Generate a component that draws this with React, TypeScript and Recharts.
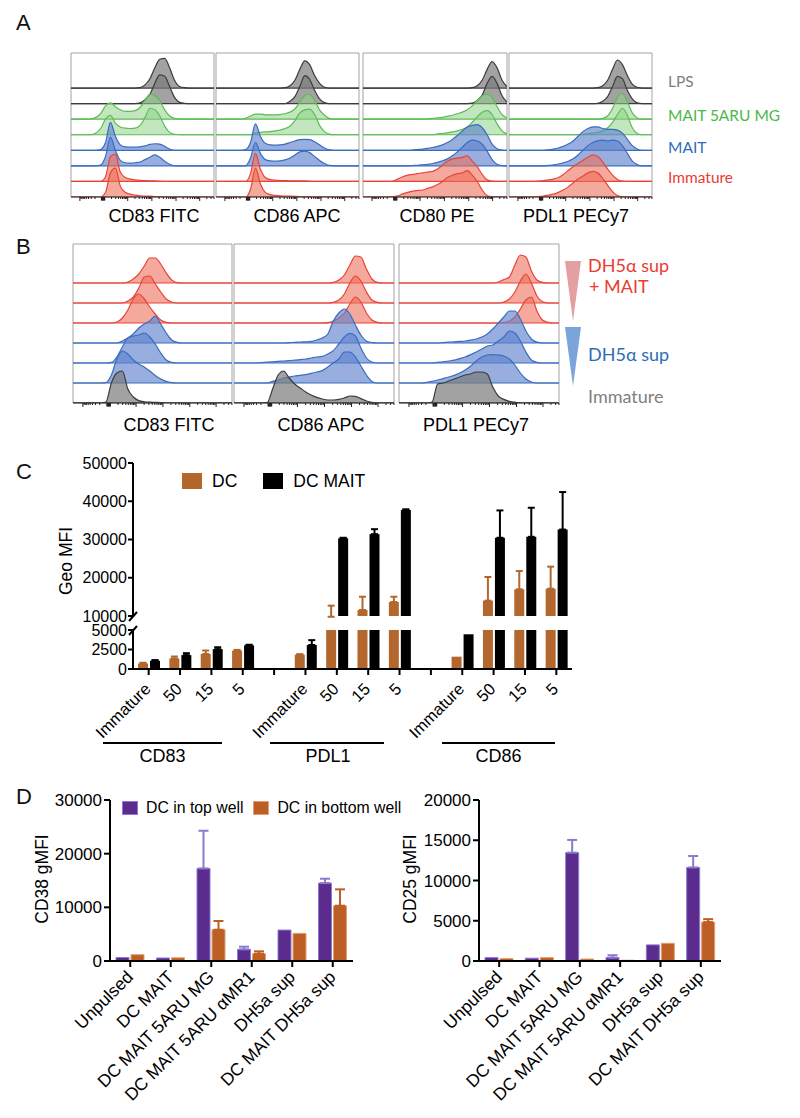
import React from 'react';
import { ComposedChart, BarChart, Bar, Area, XAxis, YAxis, ErrorBar, ReferenceArea, Legend } from 'recharts';

const FONT = '"Liberation Sans", Arial, Helvetica, sans-serif';
const LEGFONT = 'Lato, "Open Sans", sans-serif';

// ---------- Histogram data (30 bins per curve, values in row-heights) ----------
const NB = 30;
function pad(start: number, vals: number[]): number[] {
  const a: number[] = new Array(NB).fill(0);
  vals.forEach((v, k) => { a[start + k] = v; });
  return a;
}

// Panel A rows (top to bottom): LPS, LPS, MAIT 5ARU MG x2, MAIT x2, Immature x2
const histA_CD83 = [
  pad(14, [0.02, 0.2, 0.6, 1.3, 1.85, 1.9, 1.3, 0.5, 0.1, 0.02]),
  pad(14, [0.05, 0.25, 0.6, 1.3, 1.85, 1.75, 1.1, 0.4, 0.08, 0.02]),
  pad(4, [0.02, 0.1, 0.35, 0.85, 1.05, 0.8, 0.6, 0.5, 0.5, 0.55, 0.75, 1.2, 1.6, 1.5, 1.2, 0.6, 0.2, 0.05]),
  pad(5, [0.1, 0.4, 1.0, 1.25, 0.75, 0.5, 0.42, 0.4, 0.42, 0.6, 1.1, 1.7, 1.6, 1.2, 0.55, 0.15, 0.03]),
  pad(6, [0.05, 0.5, 1.8, 0.9, 0.35, 0.22, 0.2, 0.2, 0.22, 0.28, 0.38, 0.42, 0.4, 0.25, 0.08]),
  pad(6, [0.05, 0.6, 1.85, 1.0, 0.35, 0.2, 0.18, 0.2, 0.25, 0.4, 0.55, 0.7, 0.55, 0.3, 0.1]),
  pad(7, [0.3, 1.6, 1.75, 0.6, 0.25, 0.15, 0.1, 0.07, 0.05, 0.04, 0.03, 0.02]),
  pad(7, [0.3, 1.55, 1.85, 0.7, 0.3, 0.18, 0.12, 0.08, 0.06, 0.05, 0.03, 0.02]),
];
const histA_CD86 = [
  pad(14, [0.02, 0.15, 0.5, 1.2, 1.75, 1.5, 0.8, 0.3, 0.05]),
  pad(15, [0.15, 0.45, 1.1, 1.8, 1.55, 0.85, 0.3, 0.06]),
  pad(6, [0.05, 0.2, 0.32, 0.33, 0.28, 0.27, 0.27, 0.3, 0.35, 0.45, 0.65, 1.1, 1.5, 1.6, 1.2, 0.6, 0.25, 0.05]),
  pad(8, [0.1, 0.15, 0.18, 0.2, 0.25, 0.3, 0.4, 0.55, 0.9, 1.4, 1.6, 1.65, 1.3, 0.6, 0.2, 0.04]),
  pad(6, [0.05, 0.5, 1.7, 0.9, 0.45, 0.35, 0.33, 0.35, 0.4, 0.5, 0.6, 0.68, 0.7, 0.68, 0.55, 0.35, 0.15, 0.03]),
  pad(7, [0.5, 1.5, 0.8, 0.4, 0.32, 0.3, 0.32, 0.38, 0.5, 0.7, 0.9, 0.95, 0.85, 0.6, 0.35, 0.15, 0.03]),
  pad(7, [0.5, 1.8, 0.8, 0.25, 0.12, 0.08, 0.06, 0.05, 0.04, 0.04, 0.03, 0.03, 0.02]),
  pad(7, [0.5, 1.85, 0.85, 0.3, 0.15, 0.1, 0.07, 0.06, 0.05, 0.04, 0.03, 0.03, 0.02]),
];
const histA_CD80 = [
  pad(22, [0.02, 0.15, 0.5, 1.2, 1.7, 1.3, 0.5, 0.1]),
  pad(22, [0.03, 0.2, 0.55, 1.3, 1.75, 1.3, 0.5, 0.1]),
  pad(13, [0.02, 0.05, 0.08, 0.12, 0.18, 0.25, 0.35, 0.45, 0.6, 0.85, 1.2, 1.5, 1.6, 1.4, 0.8, 0.3, 0.08]),
  pad(15, [0.05, 0.08, 0.12, 0.18, 0.25, 0.35, 0.5, 0.8, 1.15, 1.45, 1.55, 1.3, 0.7, 0.25, 0.05]),
  pad(10, [0.02, 0.05, 0.08, 0.12, 0.18, 0.25, 0.35, 0.5, 0.7, 0.95, 1.25, 1.5, 1.6, 1.65, 1.45, 1.0, 0.4, 0.1, 0.02]),
  pad(10, [0.02, 0.04, 0.07, 0.1, 0.15, 0.22, 0.32, 0.45, 0.65, 0.9, 1.2, 1.5, 1.65, 1.6, 1.4, 0.95, 0.4, 0.1, 0.02]),
  pad(6, [0.02, 0.15, 0.3, 0.4, 0.45, 0.5, 0.55, 0.6, 0.65, 0.8, 1.05, 1.3, 1.45, 1.5, 1.55, 1.65, 1.3, 0.95, 0.45, 0.1, 0.02]),
  pad(6, [0.02, 0.08, 0.2, 0.3, 0.38, 0.42, 0.45, 0.55, 0.65, 0.8, 1.0, 1.25, 1.4, 1.5, 1.55, 1.7, 1.4, 1.0, 0.45, 0.1, 0.02]),
];
const histA_PDL1 = [
  pad(18, [0.02, 0.15, 0.5, 1.2, 1.8, 1.5, 0.8, 0.25, 0.05]),
  pad(18, [0.02, 0.15, 0.45, 1.1, 1.75, 1.6, 0.85, 0.3, 0.05]),
  pad(19, [0.05, 0.2, 0.7, 1.4, 1.65, 1.1, 0.4, 0.08]),
  pad(15, [0.03, 0.06, 0.1, 0.15, 0.25, 0.45, 0.8, 1.3, 1.7, 1.25, 0.45, 0.08]),
  pad(8, [0.03, 0.08, 0.15, 0.25, 0.4, 0.6, 0.9, 1.2, 1.4, 1.5, 1.5, 1.4, 1.35, 1.35, 1.3, 1.1, 0.7, 0.3, 0.08]),
  pad(8, [0.03, 0.06, 0.12, 0.2, 0.3, 0.45, 0.7, 1.0, 1.3, 1.5, 1.6, 1.65, 1.6, 1.65, 1.6, 1.3, 0.8, 0.3, 0.08]),
  pad(6, [0.02, 0.05, 0.1, 0.15, 0.25, 0.45, 0.7, 0.95, 1.15, 1.35, 1.55, 1.7, 1.6, 1.25, 0.8, 0.4, 0.12, 0.02]),
  pad(6, [0.03, 0.06, 0.12, 0.18, 0.3, 0.45, 0.65, 0.9, 1.15, 1.35, 1.55, 1.65, 1.55, 1.2, 0.75, 0.35, 0.1, 0.02]),
];

// Panel B rows (top to bottom): DH5a sup + MAIT x3, DH5a sup x3, Immature
const histB_CD83 = [
  pad(10, [0.05, 0.2, 0.45, 0.85, 1.25, 1.25, 0.95, 0.5, 0.15, 0.02]),
  pad(10, [0.1, 0.3, 0.75, 1.3, 1.35, 0.95, 0.55, 0.2, 0.05]),
  pad(8, [0.05, 0.25, 0.65, 1.2, 1.45, 1.2, 0.8, 0.45, 0.15, 0.03]),
  pad(9, [0.1, 0.25, 0.45, 0.75, 0.95, 1.1, 1.35, 0.95, 0.5, 0.15, 0.03]),
  pad(7, [0.03, 0.3, 0.8, 1.25, 1.35, 1.4, 1.5, 1.3, 0.95, 0.5, 0.15, 0.03]),
  pad(6, [0.02, 0.4, 1.2, 1.6, 1.45, 1.15, 0.95, 0.8, 0.6, 0.38, 0.2, 0.08, 0.02]),
  pad(6, [0.05, 1.0, 1.5, 1.6, 0.7, 0.3, 0.12, 0.06, 0.04, 0.03, 0.02]),
];
const histB_CD86 = [
  pad(18, [0.03, 0.15, 0.4, 0.9, 1.35, 1.3, 0.7, 0.2, 0.03]),
  pad(18, [0.03, 0.15, 0.45, 1.0, 1.35, 1.1, 0.55, 0.15, 0.03]),
  pad(17, [0.02, 0.1, 0.25, 0.5, 0.95, 1.3, 1.05, 0.5, 0.15, 0.03]),
  pad(10, [0.02, 0.03, 0.05, 0.06, 0.08, 0.15, 0.25, 0.45, 1.1, 1.5, 1.7, 1.45, 0.9, 0.4, 0.1, 0.02]),
  pad(5, [0.02, 0.04, 0.06, 0.08, 0.1, 0.12, 0.14, 0.17, 0.2, 0.25, 0.3, 0.33, 0.45, 0.62, 0.95, 1.3, 1.48, 1.35, 0.75, 0.25, 0.05]),
  pad(7, [0.08, 0.15, 0.25, 0.3, 0.35, 0.38, 0.42, 0.48, 0.55, 0.62, 0.8, 1.0, 1.2, 1.55, 1.55, 1.3, 0.85, 0.4, 0.08]),
  pad(6, [0.02, 0.7, 1.4, 1.6, 1.25, 0.95, 0.75, 0.55, 0.4, 0.28, 0.2, 0.15, 0.15, 0.18, 0.25, 0.35, 0.33, 0.22, 0.1, 0.03]),
];
const histB_PDL1 = [
  pad(18, [0.05, 0.17, 0.3, 0.9, 1.4, 1.3, 0.6, 0.15, 0.03]),
  pad(19, [0.05, 0.2, 0.55, 1.1, 1.45, 1.0, 0.35, 0.06]),
  pad(19, [0.03, 0.1, 0.3, 0.7, 1.15, 1.3, 0.6, 0.15, 0.03]),
  pad(8, [0.02, 0.04, 0.06, 0.08, 0.1, 0.14, 0.2, 0.3, 0.45, 0.7, 1.0, 1.3, 1.6, 1.6, 1.2, 0.6, 0.2, 0.04]),
  pad(7, [0.03, 0.06, 0.1, 0.14, 0.22, 0.3, 0.42, 0.55, 0.7, 0.85, 0.9, 1.1, 1.3, 1.6, 1.5, 1.1, 0.55, 0.15, 0.03]),
  pad(5, [0.03, 0.08, 0.15, 0.22, 0.3, 0.38, 0.5, 0.65, 0.85, 1.1, 1.3, 1.4, 1.42, 1.4, 1.35, 1.2, 0.9, 0.5, 0.2, 0.05]),
  pad(6, [0.05, 0.95, 1.0, 1.1, 1.2, 1.3, 1.4, 1.45, 1.55, 1.55, 1.45, 0.8, 0.35, 0.18, 0.08, 0.04]),
];

const A_ROWS = ['g', 'g', 'gr', 'gr', 'b', 'b', 'r', 'r'];
const B_ROWS = ['r', 'r', 'r', 'b', 'b', 'b', 'g'];

const PAL: Record<string, { stroke: string; fill: string; op: number }> = {
  g: { stroke: '#3c3c3c', fill: '#7a7a7a', op: 0.7 },
  gr: { stroke: '#5dbb55', fill: '#8fd488', op: 0.55 },
  b: { stroke: '#3a6cc0', fill: '#5f82cc', op: 0.65 },
  r: { stroke: '#e8443a', fill: '#ee6e5a', op: 0.6 },
};

// log-like (biexponential) axis ticks for the histograms
const HIST_MAJOR = [1.8, 11.5, 16.4, 21.3, 26.1];
const HIST_ZERO = [6.2, 6.35, 6.5, 6.65, 6.8];
const DEC = [2, 3, 4, 5, 6, 7, 8, 9];
const HIST_MINOR: number[] = [
  ...DEC.map((k) => 6.2 - Math.log10(k) * 4.4),
  ...DEC.map((k) => 6.8 + Math.log10(k) * 4.7),
  ...DEC.map((k) => 11.5 + Math.log10(k) * 4.9),
  ...DEC.map((k) => 16.4 + Math.log10(k) * 4.9),
  ...DEC.map((k) => 21.3 + Math.log10(k) * 4.8),
  ...[2, 3, 4].map((k) => 26.1 + Math.log10(k) * 4.8),
];
const HIST_TICKS = [...HIST_MAJOR, ...HIST_ZERO, ...HIST_MINOR].sort((a, b) => a - b);

const HistTick = (p: any) => {
  const v = p.payload?.value;
  const major = HIST_MAJOR.includes(v);
  const zero = HIST_ZERO.includes(v);
  const len = major ? 4 : zero ? 3.5 : 2;
  return <line x1={p.x} x2={p.x} y1={p.y} y2={p.y + len} stroke="#222" strokeWidth={zero ? 1.4 : 1} />;
};

type HistProps = { left: number; top: number; width: number; height: number; ymax: number; curves: number[][]; rows: string[] };
function Hist({ left, top, width, height, ymax, curves, rows }: HistProps) {
  const n = curves.length;
  const data = Array.from({ length: NB }, (_, i) => {
    const o: any = { x: i };
    curves.forEach((c, k) => { o['c' + k] = c[i]; });
    return o;
  });
  return (
    <div style={{ position: 'absolute', left: left - 1, top: top - 1 }}>
      <ComposedChart width={width + 2} height={height + 8} data={data} margin={{ top: 1, right: 1, bottom: 0, left: 1 }}>
        <XAxis dataKey="x" type="number" domain={[0, NB - 1]} ticks={HIST_TICKS} interval={0} tickSize={0} tickMargin={0}
          tickLine={false} tick={HistTick} height={7} axisLine={{ stroke: '#333', strokeWidth: 1 }} allowDataOverflow />
        <YAxis hide type="number" domain={[0, ymax]} allowDataOverflow />
        <ReferenceArea x1={0} x2={NB - 1} y1={0} y2={ymax} fill="none" stroke="#a3a3a3" strokeWidth={1} ifOverflow="visible" />
        {curves.map((c, k) => {
          const base = n - 1 - k;
          const col = PAL[rows[k]];
          return (
            <Area key={k} type="monotone" dataKey={(d: any) => [base, base + d['c' + k]]} stroke={col.stroke} strokeWidth={1.2}
              fill={col.fill} fillOpacity={col.op} isAnimationActive={false} dot={false} activeDot={false} />
          );
        })}
      </ComposedChart>
    </div>
  );
}

// ---------- Panel C data ----------
const C_CATS = ['Immature', '50', '15', '5', '', 'Immature', '50', '15', '5', '', 'Immature', '50', '15', '5'];
const C_DC = [700, 1350, 1920, 2350, 0, 1840, 9800, 11570, 13650, 0, 1580, 14000, 16970, 17130];
const C_DC_ERR = [100, 250, 450, 100, 0, 60, 2900, 3470, 1390, 0, 0, 6200, 4780, 5770];
const C_MAIT = [1060, 1780, 2540, 3030, 0, 3080, 30300, 31400, 37700, 0, 4450, 30450, 30700, 32600];
const C_MAIT_ERR = [80, 250, 250, 80, 0, 620, 150, 1300, 200, 0, 0, 7150, 7600, 9800];
const C_TOP_TICKS = [10000, 20000, 30000, 40000, 50000];
const C_BOT_TICKS = [0, 2500, 5000];

const cData = C_CATS.map((cat, i) => ({ cat, dc: C_DC[i], dcErr: C_DC_ERR[i], mait: C_MAIT[i], maitErr: C_MAIT_ERR[i] }));

// ---------- Panel D data ----------
const D_CATS = ['Unpulsed', 'DC MAIT', 'DC MAIT 5ARU MG', 'DC MAIT 5ARU \u03b1MR1', 'DH5a sup', 'DC MAIT DH5a sup'];
const D_CD38_TOP = [650, 560, 17250, 2170, 5770, 14520];
const D_CD38_TOP_ERR = [0, 0, 7020, 500, 0, 810];
const D_CD38_BOT = [1180, 600, 5830, 1360, 5150, 10300];
const D_CD38_BOT_ERR = [0, 0, 1620, 440, 0, 3050];
const D_CD25_TOP = [420, 350, 13460, 420, 2000, 11620];
const D_CD25_TOP_ERR = [0, 0, 1580, 300, 0, 1420];
const D_CD25_BOT = [300, 420, 250, 100, 2200, 4830];
const D_CD25_BOT_ERR = [0, 0, 0, 0, 0, 370];
const D_SERIES = ['DC in top well', 'DC in bottom well'];

const ORANGE_C = '#b3672c';
const PURPLE = '#5b2c8d';
const PURPLE_LT = '#8a7bcf';
const ORANGE_D = '#bd5e24';
const ORANGE_D_LT = '#e0a070';

const errKey = (k: string) => (d: any) => (d[k] > 0 ? [0, d[k]] : null);

const makeRotTick = (fs: number, dx: number, dy: number) => (p: any) => {
  const x = p.x + dx;
  const y = p.y + dy;
  return (
    <text x={x} y={y} transform={`rotate(-45 ${x} ${y})`} textAnchor="end" fontSize={fs} fill="#000" fontFamily={FONT}>
      {p.payload.value}
    </text>
  );
};
const CTick = makeRotTick(16.5, 3, 13);
const DTick = makeRotTick(17.5, 4, 9);

const CLegend = (props: any) => (
  <div style={{ display: 'flex', alignItems: 'center', fontFamily: FONT, fontSize: 17.5, color: '#000', lineHeight: '20px' }}>
    {(props.payload || []).map((p: any, i: number) => (
      <div key={i} style={{ display: 'flex', alignItems: 'center', marginRight: 26 }}>
        <span style={{ display: 'inline-block', width: 20, height: 16, background: p.color, marginRight: 10 }} />
        <span>{p.value}</span>
      </div>
    ))}
  </div>
);

const DLegend = (props: any) => {
  const items = [...(props.payload || [])].sort((a: any, b: any) => D_SERIES.indexOf(a.value) - D_SERIES.indexOf(b.value));
  return (
    <div style={{ display: 'flex', alignItems: 'center', fontFamily: FONT, fontSize: 15.8, color: '#000', lineHeight: '20px' }}>
      {items.map((p: any, i: number) => (
        <div key={i} style={{ display: 'flex', alignItems: 'center', marginRight: 10 }}>
          <span style={{ display: 'inline-block', width: 14, height: 12, background: p.color, border: `1px solid ${p.payload?.stroke || p.color}`, marginRight: 8 }} />
          <span>{p.value}</span>
        </div>
      ))}
    </div>
  );
};

const axisBlack = { stroke: '#000', strokeWidth: 2 };

function DChart({ left, width, ywidth, domain, ticks, top, topErr, bot, botErr, legend }: any) {
  const data = D_CATS.map((cat, i) => ({ cat, top: top[i], topErr: topErr[i], bot: bot[i], botErr: botErr[i] }));
  return (
    <div style={{ position: 'absolute', left, top: 790 }}>
      <BarChart width={width} height={318} data={data} margin={{ top: 10, right: 20, bottom: 0, left: 0 }} barSize={13} barGap={2}>
        <XAxis dataKey="cat" height={147} interval={0} axisLine={axisBlack} tickLine={axisBlack} tickSize={6} tickMargin={2} tick={DTick} />
        <YAxis width={ywidth} domain={domain} ticks={ticks} interval={0} allowDataOverflow axisLine={axisBlack} tickLine={axisBlack}
          tickSize={6} tickMargin={2} tick={{ fill: '#000', fontSize: 17, fontFamily: FONT }} />
        <Bar dataKey="top" name={D_SERIES[0]} fill={PURPLE} stroke={PURPLE_LT} strokeWidth={1} isAnimationActive={false}>
          <ErrorBar dataKey={errKey('topErr')} width={5} stroke={PURPLE_LT} strokeWidth={2} direction="y" />
        </Bar>
        <Bar dataKey="bot" name={D_SERIES[1]} fill={ORANGE_D} stroke={ORANGE_D_LT} strokeWidth={1} isAnimationActive={false}>
          <ErrorBar dataKey={errKey('botErr')} width={5} stroke={ORANGE_D} strokeWidth={2} direction="y" />
        </Bar>
        {legend ? (
          <Legend verticalAlign="middle" layout="horizontal" content={DLegend}
            wrapperStyle={{ top: 8, left: 122, width: 400, height: 20 }} />
        ) : null}
      </BarChart>
    </div>
  );
}

export default function App() {
  return (
    <div style={{ position: 'absolute', left: 0, top: 0, width: 800, height: 1118, background: '#fff', fontFamily: FONT, overflow: 'hidden' }}>
      {/* Panel A */}
      <Hist left={71} top={53} width={143} height={144} ymax={9.25} curves={histA_CD83} rows={A_ROWS} />
      <Hist left={216} top={53} width={143} height={144} ymax={9.25} curves={histA_CD86} rows={A_ROWS} />
      <Hist left={363} top={53} width={144} height={144} ymax={9.25} curves={histA_CD80} rows={A_ROWS} />
      <Hist left={509} top={53} width={143} height={144} ymax={9.25} curves={histA_PDL1} rows={A_ROWS} />

      {/* Panel B */}
      <Hist left={73} top={244} width={159} height={159} ymax={7.95} curves={histB_CD83} rows={B_ROWS} />
      <Hist left={234} top={244} width={160} height={159} ymax={7.95} curves={histB_CD86} rows={B_ROWS} />
      <Hist left={399} top={244} width={160} height={159} ymax={7.95} curves={histB_PDL1} rows={B_ROWS} />

      {/* Panel C: upper segment (10000-50000) */}
      <div style={{ position: 'absolute', left: 0, top: 450 }}>
        <BarChart width={600} height={180} data={cData} margin={{ top: 13, right: 28, bottom: 14, left: 0 }} barSize={10} barGap={2}>
          <XAxis dataKey="cat" hide />
          <YAxis width={133} domain={[10000, 50000]} ticks={C_TOP_TICKS} interval={0} allowDataOverflow axisLine={axisBlack} tickLine={axisBlack}
            tickSize={5} tickMargin={1} tick={{ fill: '#000', fontSize: 16, fontFamily: FONT }} />
          <Bar dataKey="dc" name="DC" fill={ORANGE_C} isAnimationActive={false}>
            <ErrorBar dataKey={errKey('dcErr')} width={3.5} stroke={ORANGE_C} strokeWidth={2} direction="y" />
          </Bar>
          <Bar dataKey="mait" name="DC MAIT" fill="#000" isAnimationActive={false}>
            <ErrorBar dataKey={errKey('maitErr')} width={3.5} stroke="#000" strokeWidth={2} direction="y" />
          </Bar>
          <Legend verticalAlign="middle" layout="horizontal" content={CLegend} wrapperStyle={{ top: 21, left: 182, width: 400, height: 20 }} />
        </BarChart>
      </div>
      {/* Panel C: lower segment (0-5000) */}
      <div style={{ position: 'absolute', left: 0, top: 618 }}>
        <BarChart width={600} height={131} data={cData} margin={{ top: 12, right: 28, bottom: 0, left: 0 }} barSize={10} barGap={2}>
          <XAxis dataKey="cat" height={80} interval={0} axisLine={axisBlack} tickLine={axisBlack} tickSize={6} tickMargin={2} tick={CTick} />
          <YAxis width={133} domain={[0, 5000]} ticks={C_BOT_TICKS} interval={0} allowDataOverflow axisLine={axisBlack} tickLine={axisBlack}
            tickSize={5} tickMargin={1} tick={{ fill: '#000', fontSize: 16, fontFamily: FONT }} />
          <Bar dataKey="dc" name="DC" fill={ORANGE_C} isAnimationActive={false}>
            <ErrorBar dataKey={errKey('dcErr')} width={3.5} stroke={ORANGE_C} strokeWidth={2} direction="y" />
          </Bar>
          <Bar dataKey="mait" name="DC MAIT" fill="#000" isAnimationActive={false}>
            <ErrorBar dataKey={errKey('maitErr')} width={3.5} stroke="#000" strokeWidth={2} direction="y" />
          </Bar>
        </BarChart>
      </div>

      {/* Panel D */}
      <DChart left={0} width={373} ywidth={110} domain={[0, 30000]} ticks={[0, 10000, 20000, 30000]}
        top={D_CD38_TOP} topErr={D_CD38_TOP_ERR} bot={D_CD38_BOT} botErr={D_CD38_BOT_ERR} legend />
      <DChart left={370} width={371} ywidth={109} domain={[0, 20000]} ticks={[0, 5000, 10000, 15000, 20000]}
        top={D_CD25_TOP} topErr={D_CD25_TOP_ERR} bot={D_CD25_BOT} botErr={D_CD25_BOT_ERR} />

      {/* Annotations */}
      <svg width={800} height={1118} style={{ position: 'absolute', left: 0, top: 0, pointerEvents: 'none' }} fontFamily={FONT}>
        <text x={16} y={30} fontSize={22} fill="#111">A</text>
        <text x={16} y={254} fontSize={22} fill="#111">B</text>
        <text x={16} y={479} fontSize={22} fill="#111">C</text>
        <text x={16} y={804} fontSize={22} fill="#111">D</text>

        <g fontSize={18} fill="#000" textAnchor="middle">
          <text x={154} y={222}>CD83 FITC</text>
          <text x={297} y={222}>CD86 APC</text>
          <text x={437} y={222}>CD80 PE</text>
          <text x={576} y={222}>PDL1 PECy7</text>
          <text x={169} y={431}>CD83 FITC</text>
          <text x={321} y={431}>CD86 APC</text>
          <text x={476} y={431}>PDL1 PECy7</text>
        </g>

        <g fontFamily={LEGFONT} fontSize={15.5}>
          <text x={668} y={87} fill="#808080">LPS</text>
          <text x={668} y={121} fill="#4cb84a">MAIT 5ARU MG</text>
          <text x={668} y={153} fill="#2e6db8">MAIT</text>
          <text x={668} y={183} fill="#ec3b30">Immature</text>
        </g>

        <polygon points="565,261 581,261 573,321" fill="#e3a0a3" />
        <polygon points="565,327 581,327 573,386" fill="#7ba4da" />
        <g fontFamily={LEGFONT} fontSize={18}>
          <text x={588} y={272} fill="#ec3b30">DH5{'\u03b1'} sup</text>
          <text x={589} y={293} fill="#ec3b30">+ MAIT</text>
          <text x={588} y={361} fill="#2e6db8">DH5{'\u03b1'} sup</text>
          <text x={588} y={403} fill="#808080">Immature</text>
        </g>

        <text x={71.5} y={561} fontSize={17.5} textAnchor="middle" transform="rotate(-90 71.5 561)">Geo MFI</text>
        <line x1={129} y1={621} x2={137} y2={612} stroke="#000" strokeWidth={2} />
        <line x1={129} y1={635} x2={137} y2={626} stroke="#000" strokeWidth={2} />
        <g stroke="#000" strokeWidth={2}>
          <line x1={103} y1={743} x2={222} y2={743} />
          <line x1={270} y1={743} x2={384} y2={743} />
          <line x1={442} y1={743} x2={555} y2={743} />
        </g>
        <g fontSize={18} textAnchor="middle" fill="#000">
          <text x={162.5} y={762}>CD83</text>
          <text x={328} y={762}>PDL1</text>
          <text x={498.5} y={762}>CD86</text>
        </g>

        <text x={48} y={879} fontSize={17.5} textAnchor="middle" transform="rotate(-90 48 879)">CD38 gMFI</text>
        <text x={416} y={879} fontSize={17.5} textAnchor="middle" transform="rotate(-90 416 879)">CD25 gMFI</text>
      </svg>
    </div>
  );
}
